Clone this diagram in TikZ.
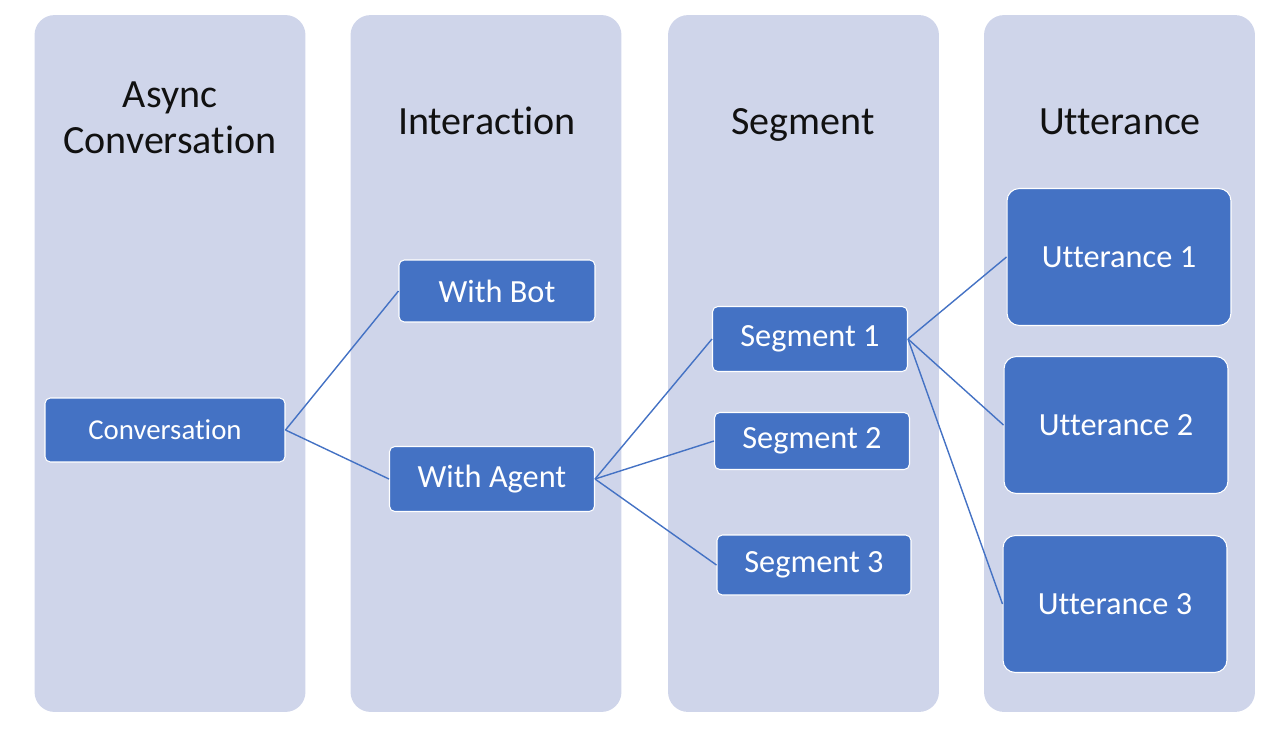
\documentclass[tikz,border=0pt]{standalone}
\usepackage{fontspec}
\setmainfont{Carlito}[Ligatures=NoCommon]
\usepackage{xcolor}
\definecolor{cPanel}{HTML}{CFD5EA}
\definecolor{cBox}{HTML}{4472C4}
\definecolor{cText}{HTML}{111111}
\usepackage{tikz}
\usetikzlibrary{positioning}
\tikzset{
  panel/.style={fill=cPanel,draw=none,rounded corners=20*0.02cm,
    minimum width=5.42cm,minimum height=13.94cm,inner sep=0pt},
  panel-head/.style={text=cText,align=center,font=\fontsize{22.8}{27}\selectfont},
  node-box/.style={fill=cBox,draw=white,line width=0.6pt,rounded corners=3pt,
    text=white,align=center,inner sep=0pt,font=\fontsize{18.4}{22}\selectfont},
  node-utt/.style={node-box,rounded corners=7pt,
    minimum width=4.48cm,minimum height=2.74cm},
  link/.style={draw=cBox,line width=0.8pt},
}
\begin{document}
\begin{tikzpicture}[x=0.02cm,y=-0.02cm]
  \useasboundingbox (0,0) rectangle (1272,734);
  % columns
  \node[panel] (p-conv) at (170,363.5) {};
  \node[panel] (p-inter) at (486,363.5) {};
  \node[panel] (p-seg) at (803.5,363.5) {};
  \node[panel] (p-utt) at (1119.5,363.5) {};
  \node[panel-head] (h-conv) at (170,118) {Async\\[-1pt]Conversation};
  \node[panel-head,anchor=base] (h-inter) at (487,134) {Interaction};
  \node[panel-head,anchor=base] (h-seg) at (803,134) {Segment};
  \node[panel-head,anchor=base] (h-utt) at (1120,134) {Utterance};
  % boxes
  \node[node-box,minimum width=4.8cm,minimum height=1.28cm,
    font=\fontsize{16.4}{20}\selectfont] (conv) at (165,430) {Conversation};
  \node[node-box,minimum width=3.92cm,minimum height=1.24cm] (bot) at (497,291) {With Bot};
  \node[node-box,minimum width=4.1cm,minimum height=1.3cm] (agent) at (492,479) {With Agent};
  \node[node-box,minimum width=3.9cm,minimum height=1.3cm] (seg1) at (810,339) {Segment 1};
  \node[node-box,minimum width=3.9cm,minimum height=1.14cm] (seg2) at (812,441) {Segment 2};
  \node[node-box,minimum width=3.88cm,minimum height=1.2cm] (seg3) at (814,565) {Segment 3};
  \node[node-utt] (utt1) at (1119,257) {Utterance 1};
  \node[node-utt] (utt2) at (1116,425) {Utterance 2};
  \node[node-utt] (utt3) at (1115,604) {Utterance 3};
  % links
  \draw[link] (conv.east) -- (bot.west);
  \draw[link] (conv.east) -- (agent.west);
  \draw[link] (agent.east) -- (seg1.west);
  \draw[link] (agent.east) -- (seg2.west);
  \draw[link] (agent.east) -- (seg3.west);
  \draw[link] (seg1.east) -- (utt1.west);
  \draw[link] (seg1.east) -- (utt2.west);
  \draw[link] (seg1.east) -- (utt3.west);
\end{tikzpicture}
\end{document}
